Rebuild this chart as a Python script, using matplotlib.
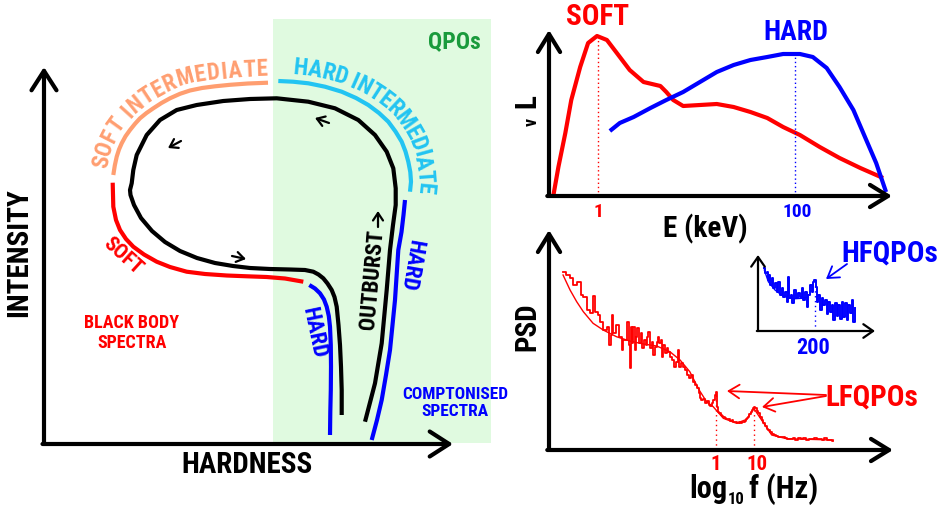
import numpy as np
import matplotlib
matplotlib.use("Agg")
import matplotlib.pyplot as plt
from matplotlib import font_manager
from matplotlib.font_manager import FontProperties

# ---------------- data ----------------
# left panel: hardness-intensity schematic, canvas pixel units (y down)
loop_x = [341.7, 341.7, 341, 340, 338.5, 336.7, 334.5, 331.7, 327.5, 323.3, 318.5, 313.3, 305, 290, 270,
          250, 233, 215, 197, 180, 165, 152, 141, 134, 130.5, 130, 131.7, 133.3, 136.7, 146.7, 160, 176.7,
          196.7, 223.3, 250, 276.7, 308.3, 335, 358.3, 375, 386.7, 393.3, 395.7, 395.7, 393, 390, 386.7,
          381.7, 375, 365]
loop_y = [415, 390, 366.7, 345, 325, 306.7, 297, 290, 283.5, 278.3, 274.5, 271.7, 270, 269.5, 269,
          268, 266, 263, 258, 251, 242, 231, 218, 205, 195, 190, 183.3, 170, 155, 135, 120, 110,
          105, 101, 99, 98.3, 101.7, 108.3, 120, 135, 151.7, 168.3, 188.3, 205, 225, 250, 290,
          343.3, 383.3, 421.7]

soft_x = [112.7, 113.3, 116, 120, 126, 133.3, 144, 156.7, 170, 186.7, 205, 226.7, 247, 266.7, 285, 303.3]
soft_y = [182.7, 206.7, 220, 230, 239, 246.7, 254.5, 261.7, 267, 271.7, 274, 275.5, 276.3, 277, 278.5, 281.7]

soft_int_x = [113.3, 114.8, 116.7, 119, 121.7, 125.5, 130, 135, 140, 146.5, 153.3, 161.5, 170, 180, 190,
              202, 215, 230, 248, 268]
soft_int_y = [175, 165.5, 156.7, 149.5, 143.3, 136.3, 130, 123.8, 118.3, 113, 108.3, 103, 98.3, 93.8, 90.5,
              88, 86.3, 84.8, 83.5, 82.7]

hard_int_x = [278.3, 293, 308.3, 325, 341.7, 356, 368.3, 379, 388.3, 395.5, 401.7, 405.5, 408.3, 410.3, 411, 410]
hard_int_y = [81, 81.7, 83.3, 86.7, 91.7, 98, 105, 113, 121.7, 131.5, 141.7, 151.5, 161.7, 172, 181.7, 191.7]

hard_in_x = [309.3, 315, 320, 324, 326.7, 328.8, 330, 330.8, 331, 330.8, 330.3, 330]
hard_in_y = [285, 288.5, 293.3, 299.5, 306.7, 316, 326.7, 345, 366.7, 390, 412, 435]

hard_out_x = [405, 403.5, 401.5, 398.3, 395, 392.5, 390, 386, 381.7, 377, 371.7]
hard_out_y = [200, 215, 232, 250, 300, 325, 350, 375, 400, 420, 440]

# SED panel: log10 E (keV) vs nu L_nu (arbitrary)
sed_soft_logE = [-0.45, -0.40, -0.33, -0.27, -0.18, -0.10, -0.01, 0.09, 0.19, 0.32, 0.46, 0.63, 0.69,
                 0.76, 0.86, 1.03, 1.20, 1.37, 1.54, 1.71, 1.87, 2.04, 2.24, 2.44, 2.65, 2.88]
sed_soft_L = [1, 29, 63, 96, 129, 153, 160, 156, 143, 126, 114, 110, 104, 96, 90, 91, 92, 89, 84, 78,
              69, 61, 49, 38, 28, 18]
sed_hard_logE = [0.12, 0.22, 0.36, 0.53, 0.69, 0.86, 1.03, 1.20, 1.37, 1.54, 1.71, 1.87, 2.04, 2.17,
                 2.31, 2.44, 2.58, 2.71, 2.81, 2.91]
sed_hard_L = [65, 73, 79, 88, 96, 104, 114, 124, 131, 136, 139, 142, 142, 139, 128, 109, 86, 56, 33, 4]
sed_soft_peak = (0.0, 160)
sed_hard_peak = (1.99, 142)

# PSD panel: log10 f (Hz) vs log power (arbitrary)
psd_logf = [-3.92, -3.85, -3.74, -3.66, -3.57, -3.47, -3.40, -3.30, -3.23, -3.16, -3.10, -3.02, -2.96,
            -2.89, -2.80, -2.74, -2.70, -2.67, -2.63, -2.55, -2.49, -2.42, -2.38, -2.27, -2.24, -2.21,
            -2.19, -2.15, -2.12, -2.08, -2.05, -2.02, -1.98, -1.93, -1.90, -1.85, -1.79, -1.76, -1.73,
            -1.69, -1.65, -1.61, -1.56, -1.52, -1.49, -1.45, -1.42, -1.38, -1.35, -1.30, -1.26, -1.23,
            -1.18, -1.13, -1.08, -1.03, -0.97, -0.94, -0.89, -0.84, -0.79, -0.74, -0.68, -0.63, -0.58,
            -0.53, -0.48, -0.43,
            -0.40, -0.37, -0.33, -0.29, -0.24, -0.19, -0.15, -0.10, -0.07, -0.03, -0.01, 0.02, 0.06,
            0.09, 0.12, 0.16, 0.19, 0.23, 0.27, 0.31, 0.36, 0.40, 0.44, 0.49, 0.53, 0.58, 0.62, 0.66,
            0.70, 0.74, 0.77, 0.80, 0.83, 0.86, 0.89, 0.92, 0.94, 0.97, 1.00, 1.03, 1.06, 1.09, 1.13,
            1.17, 1.21, 1.26, 1.30, 1.34, 1.38, 1.43, 1.48, 1.54, 1.59, 1.64, 1.70, 1.77, 1.83, 1.90,
            1.97, 2.03, 2.10, 2.17, 2.24, 2.31, 2.38, 2.45, 2.52, 2.58, 2.65, 2.72, 2.78, 2.85, 2.92,
            2.97, 3.01]
psd_power = [178.3, 175, 171.7, 165, 168.3, 155, 153.3, 140, 136.7, 154, 138.3, 135, 128.3,
             120, 123.3, 105, 115, 135, 116.7, 125, 113.3, 100, 110, 128.3, 105, 81.7,
             123.3, 106.7, 123.3, 100, 113.3, 121.7, 106.7, 117.3, 101.7, 110, 105, 113.3, 118.3,
             101.7, 108.3, 95, 103.3, 108.3, 113.3, 106.7, 110, 93.3, 105, 96.7, 101.7, 98.3,
             93.3, 90, 83.3, 88.3, 100, 83.3, 86.7, 83.3, 80, 75, 71.7, 75, 68.3,
             65, 61.7, 56.7,
             52, 50, 51.5, 47, 49, 45.5, 44, 47, 50, 55, 58.5, 43, 38.5,
             37, 35.5, 34.5, 33, 32.5, 31, 31.5, 29.5, 30, 28.5, 28, 27.3, 28.5, 27.5, 28.5,
             28.3, 29.5, 30.7, 32, 33.3, 36, 38.3, 40, 41.7, 43.3, 42.5, 41.7, 39, 37.3, 33,
             30, 27, 24, 21.5, 20, 18.5, 16, 15.5, 14, 13.5, 12.7, 13.5, 12, 11, 11.3,
             12.5, 10.5, 11.8, 10.8, 12, 10.5, 11.5, 10.8, 12, 10.7, 11.5, 10.3, 11.8, 10.5, 10.2,
             9.5, 9.3]
psd_model_logf = [-3.92, -3.74, -3.57, -3.40, -3.15, -2.89, -2.55, -2.21, -1.86, -1.52, -1.18, -0.92,
                  -0.67, -0.43, -0.24, -0.07, 0.19, 0.53, 0.79, 0.97, 1.17, 1.43, 1.81, 3.01]
psd_model_power = [175, 160, 148.3, 138.3, 126.7, 120, 113.3, 109, 106, 104, 98.3, 90,
                   78.3, 60, 48.3, 43.3, 31.7, 26.7, 30.7, 41.7, 30, 15, 11.3, 10]
lfqpo_logf = [0.0, 0.97]
lfqpo_power = [58.5, 43.3]

# HFQPO inset: f (Hz) vs power (arbitrary)
hf_f = [22.2, 24.6, 30.4, 33.9, 38.6, 42.1, 48.0, 53.8, 59.7, 65.5, 71.4, 77.2, 83.1, 88.9, 94.8,
        100.6, 106.5, 110.0, 115.8, 120.5, 127.5, 132.2, 139.2, 147.4, 153.3, 159.1, 165.0, 170.8,
        176.7, 182.5, 188.4, 193.1, 197.8, 202.4, 205.9, 211.8, 217.6, 223.5, 229.3, 235.2, 241.0,
        246.9, 252.7, 258.6, 264.4, 270.3, 276.1, 282.0, 287.8, 293.7, 299.5, 305.4, 311.2, 317.1,
        322.9, 328.8, 334.6, 340.5]
hf_power = [62.7, 57.7, 59.3, 51, 56, 46, 52.7, 42.7, 47.7, 39.3, 49.3, 36, 42.7, 34.3, 39.3,
            29.3, 54.3, 32.7, 36, 27.7, 41, 32.7, 37.7, 34.3, 42.7, 31, 39.3, 24.3,
            36, 46, 39.3, 49.3, 51, 44.3, 29.3, 36, 21, 32.7, 26, 31, 17,
            29.3, 19.3, 26, 11, 27.7, 15.3, 26, 12, 29.3, 13.7, 27.7, 11, 26,
            17.7, 31, 9.3, 22.7]
hf_model_f = [22.2, 36.3, 59.7, 83.1, 106.5, 129.9, 153.3, 176.7]
hf_model_power = [61, 49.3, 41, 36, 33.3, 32.3, 32.7, 34]
hfqpo_f = 200
hfqpo_power = 50

# ---------------- style ----------------
RED = "#ff0000"
BLUE = "#0000ff"
SALMON = "#ff9e70"
CYAN = "#22c4f2"
GREEN_BG = "#e0fae0"
GREEN_TXT = "#1a9a3c"

names = {f.name for f in font_manager.fontManager.ttflist}
if "Roboto Condensed" in names:
    FONT = dict(family="Roboto Condensed", weight="bold")
else:
    FONT = dict(family="DejaVu Sans", weight="bold", stretch="condensed")


def label(ax, x, y, s, size, color="black", **kw):
    ax.text(x, y, s, color=color, fontproperties=FontProperties(size=size, **FONT),
            ha=kw.pop("ha", "center"), va=kw.pop("va", "center"), **kw)


def arrow(ax, start, end, lw=3, hl=0.65, hw=0.4, ms=20, color="black", coords="axes fraction"):
    ax.annotate("", xy=end, xytext=start, xycoords=coords, textcoords=coords,
                arrowprops=dict(arrowstyle=f"->,head_length={hl},head_width={hw}", lw=lw,
                                color=color, shrinkA=0, shrinkB=0, mutation_scale=ms),
                annotation_clip=False)


def text_along(ax, text, xs, ys, size, color, offset, pad0, pad1):
    """Write text letter by letter beside a curve, `offset` px to its left."""
    fig = ax.figure
    renderer = fig.canvas.get_renderer()
    prop = FontProperties(size=size, **FONT)
    base = ax.transData.transform(np.column_stack([xs, ys]))
    tang = np.gradient(base, axis=0)
    tang /= np.hypot(tang[:, 0], tang[:, 1])[:, None]
    normal = np.column_stack([-tang[:, 1], tang[:, 0]])
    pts = base + offset * normal
    seg = np.hypot(*np.diff(pts, axis=0).T)
    cum = np.concatenate([[0], np.cumsum(seg)])
    widths = []
    for ch in text:
        if ch == " ":
            widths.append(size * 0.2 * fig.dpi / 72)
        else:
            widths.append(renderer.get_text_width_height_descent(ch, prop, ismath=False)[0])
    widths = np.array(widths)
    centre_gaps = (widths[:-1] + widths[1:]) / 2
    length = cum[-1] - pad0 - pad1
    gap = (length - centre_gaps.sum()) / (len(text) - 1)
    s_pos = pad0 + np.concatenate([[0], np.cumsum(centre_gaps + gap)])
    inv = ax.transData.inverted()
    for ch, s in zip(text, s_pos):
        px = np.interp(s, cum, pts[:, 0])
        py = np.interp(s, cum, pts[:, 1])
        a = np.clip(s - 5, 0, cum[-1])
        b = np.clip(s + 5, 0, cum[-1])
        dx = np.interp(b, cum, pts[:, 0]) - np.interp(a, cum, pts[:, 0])
        dy = np.interp(b, cum, pts[:, 1]) - np.interp(a, cum, pts[:, 1])
        ang = np.degrees(np.arctan2(dy, dx))
        x, y = inv.transform((px, py))
        ax.text(x, y, ch, rotation=ang, rotation_mode="anchor", ha="center", va="center",
                color=color, fontproperties=prop)


fig = plt.figure(figsize=(9.45, 5.12), dpi=100)
canvas = fig.add_axes([0, 0, 1, 1])
canvas.set_xlim(0, 945)
canvas.set_ylim(512, 0)
canvas.axis("off")

# ---------------- left: hardness-intensity diagram ----------------
canvas.add_patch(plt.Rectangle((273, 19), 218, 424, color=GREEN_BG, lw=0, zorder=0))
arrow(canvas, (44, 444), (44, 67), coords="data", hl=0.7, hw=0.45)
arrow(canvas, (42.5, 444), (453, 444), coords="data", hl=0.7, hw=0.45)

canvas.plot(loop_x, loop_y, color="black", lw=3, solid_capstyle="butt", solid_joinstyle="round")
canvas.plot(soft_x, soft_y, color=RED, lw=3, solid_capstyle="butt")
canvas.plot(soft_int_x, soft_int_y, color=SALMON, lw=3, solid_capstyle="butt")
canvas.plot(hard_int_x, hard_int_y, color=CYAN, lw=3, solid_capstyle="butt")
canvas.plot(hard_in_x, hard_in_y, color=BLUE, lw=3, solid_capstyle="butt")
canvas.plot(hard_out_x, hard_out_y, color=BLUE, lw=3, solid_capstyle="butt")

small = dict(coords="data", lw=1.6, hl=0.45, hw=0.3, ms=12)
arrow(canvas, (232, 256), (246, 259), **small)
arrow(canvas, (181, 141), (168, 148), **small)
arrow(canvas, (329, 123), (315, 118), **small)
arrow(canvas, (378, 227), (378, 211), **small)

text_along(canvas, "SOFT INTERMEDIATE", soft_int_x, soft_int_y, 16.5, SALMON, offset=13.5, pad0=11, pad1=5)
text_along(canvas, "HARD INTERMEDIATE", hard_int_x, hard_int_y, 17, CYAN, offset=14, pad0=22, pad1=5)

label(canvas, 454, 42, "QPOs", 17, GREEN_TXT)
label(canvas, 19, 253, "INTENSITY", 21, rotation=90)
label(canvas, 247, 465, "HARDNESS", 21)
label(canvas, 132, 333, "BLACK BODY\nSPECTRA", 13, RED, linespacing=1.15)
label(canvas, 455, 403, "COMPTONISED\nSPECTRA", 12.5, BLUE, linespacing=1.2)
label(canvas, 123, 256, "SOFT", 15, RED, rotation=-42)
label(canvas, 314, 333, "HARD", 16, BLUE, rotation=-78)
label(canvas, 411, 265, "HARD", 16, BLUE, rotation=-100)
label(canvas, 372, 280, "OUTBURST", 16, rotation=85)

# ---------------- top right: spectra ----------------
sed = fig.add_axes([549 / 945, (512 - 196) / 512, (892 - 549) / 945, (196 - 30) / 512])
sed.set_xlim(-0.495, 2.97)
sed.set_ylim(0, 166)
sed.axis("off")
sed.patch.set_alpha(0)
arrow(sed, (0, 0), (0, 1))
arrow(sed, (-0.005, 0), (1, 0))
sed.plot(sed_soft_logE, sed_soft_L, color=RED, lw=3, solid_capstyle="butt", solid_joinstyle="round")
sed.plot(sed_hard_logE, sed_hard_L, color=BLUE, lw=3, solid_capstyle="butt", solid_joinstyle="round")
sed.plot([sed_soft_peak[0]] * 2, [0, sed_soft_peak[1]], color=RED, lw=1, ls=(0, (1, 2)))
sed.plot([sed_hard_peak[0]] * 2, [0, sed_hard_peak[1]], color=BLUE, lw=1, ls=(0, (1, 2)))

label(canvas, 598, 17, "SOFT", 21, RED)
label(canvas, 796, 33, "HARD", 20, BLUE)
label(canvas, 598, 212, "1", 14, RED)
label(canvas, 797, 212, "100", 14, BLUE)
label(canvas, 705, 229, "E (keV)", 21)
label(canvas, 527, 101, "L", 21, rotation=90)
label(canvas, 532, 122, "v", 13, rotation=90)

# ---------------- bottom right: power spectrum ----------------
psd = fig.add_axes([549 / 945, (512 - 450) / 512, (893 - 549) / 945, (450 - 230) / 512])
psd.set_xlim(-4.28, 4.54)
psd.set_ylim(0, 220)
psd.axis("off")
psd.patch.set_alpha(0)
arrow(psd, (0, 0), (0, 1))
arrow(psd, (-0.005, 0), (1, 0))
psd.plot(psd_model_logf, psd_model_power, color=RED, lw=1.0)
psd.plot(psd_logf, psd_power, color=RED, lw=1.3, drawstyle="steps-post")
for lf, pw in zip(lfqpo_logf, lfqpo_power):
    psd.plot([lf, lf], [0, pw], color=RED, lw=1, ls=(0, (1, 2.5)))

label(canvas, 527, 327, "PSD", 21, rotation=90)
label(canvas, 716, 464, "1", 15, RED)
label(canvas, 757, 464, "10", 15, RED)
label(canvas, 727, 498, "log", 22, ha="right", va="baseline")
label(canvas, 727.5, 504, "10", 12, ha="left", va="baseline")
label(canvas, 749, 498, "f (Hz)", 22, ha="left", va="baseline")
label(canvas, 872, 397, "LFQPOs", 21, RED)
thin = dict(coords="data", lw=1.3, hl=0.55, hw=0.35, ms=14)
arrow(canvas, (826, 395), (727, 391), color=RED, **thin)
arrow(canvas, (826, 396), (762, 407), color=RED, **thin)

# inset with HFQPO
ins = fig.add_axes([758 / 945, (512 - 331) / 512, (875 - 758) / 945, (331 - 255) / 512])
ins.set_xlim(0, 410.7)
ins.set_ylim(0, 76)
ins.axis("off")
ins.patch.set_alpha(0)
arrow(ins, (0, 0), (0, 1), lw=1.6, hl=0.5, hw=0.35, ms=14)
arrow(ins, (-0.01, 0), (1, 0), lw=1.6, hl=0.5, hw=0.35, ms=14)
ins.plot(hf_model_f, hf_model_power, color=BLUE, lw=1.0)
ins.plot(hf_f, hf_power, color=BLUE, lw=1.4, drawstyle="steps-post")
ins.plot([hfqpo_f, hfqpo_f], [0, hfqpo_power], color=BLUE, lw=1, ls=(0, (1, 2.5)))

label(canvas, 813, 348, "200", 16, BLUE)
label(canvas, 890, 253, "HFQPOs", 21, BLUE)
arrow(canvas, (847, 264), (826, 279), color=BLUE, **thin)

fig.savefig("out.png", dpi=100)
